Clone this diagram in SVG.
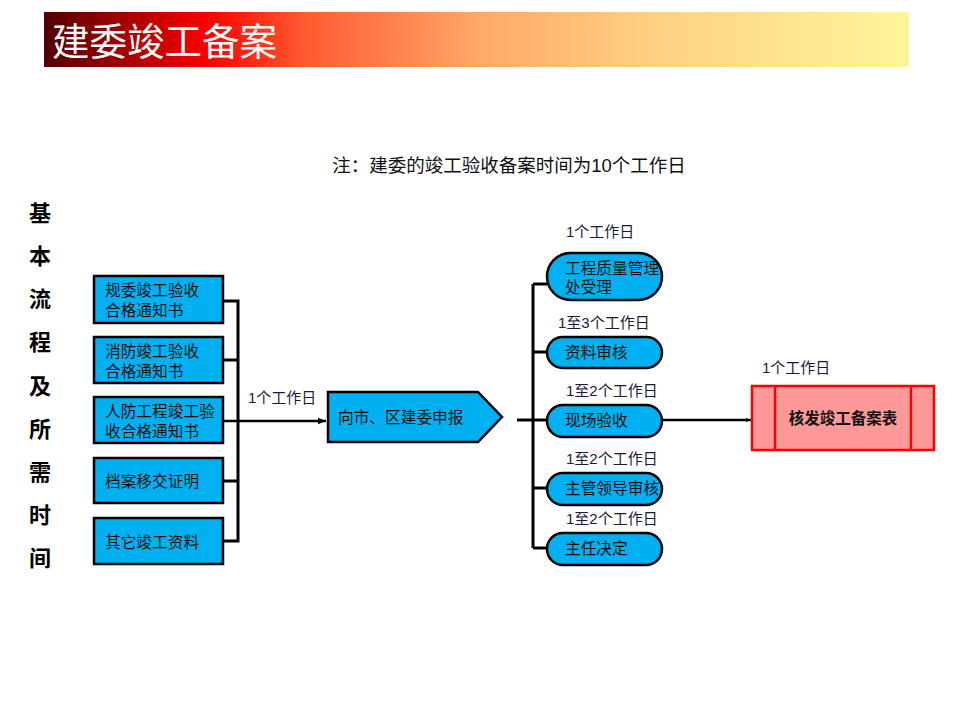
<svg xmlns="http://www.w3.org/2000/svg" width="960" height="720" viewBox="0 0 960 720">
<defs>
<linearGradient id="tg" x1="0" y1="0" x2="1" y2="0">
<stop offset="0" stop-color="#500000"/>
<stop offset="0.19" stop-color="#ff0000"/>
<stop offset="0.3" stop-color="#ff5a30"/>
<stop offset="0.5" stop-color="#ffa866"/>
<stop offset="0.7" stop-color="#ffd080"/>
<stop offset="1" stop-color="#fff59a"/>
</linearGradient>
<marker id="ah" viewBox="0 0 10 10" refX="10" refY="5" markerWidth="5" markerHeight="5" orient="auto" markerUnits="userSpaceOnUse">
<path d="M0,1 L10,5 L0,9 z" fill="#000"/>
</marker>
<marker id="ah2" viewBox="0 0 10 10" refX="10" refY="5" markerWidth="8" markerHeight="8" orient="auto" markerUnits="userSpaceOnUse">
<path d="M0,1 L10,5 L0,9 z" fill="#000"/>
</marker>
</defs>
<style>
text{font-family:"Liberation Sans","Noto Sans CJK SC",sans-serif;}
.box{fill:#00b0f0;stroke:#000;stroke-width:2.5;}
.t{font-size:15.7px;fill:#111;}
.lbl{font-size:15px;fill:#1a1a3a;}
.ln{stroke:#000;stroke-width:3;fill:none;}
.side{font-size:22px;font-weight:bold;fill:#000;text-anchor:middle;}
</style>
<rect width="960" height="720" fill="#fff"/>
<g id="title">
<rect x="44" y="12" width="865" height="55" fill="url(#tg)"/>
<text x="52" y="55" font-size="37.5" fill="#fff">建委竣工备案</text>
</g>
<text x="509" y="172" font-size="18.5" text-anchor="middle" fill="#111">注：建委的竣工验收备案时间为10个工作日</text>
<g id="side-label">
<text class="side" x="40" y="221">基</text>
<text class="side" x="40" y="264">本</text>
<text class="side" x="40" y="307">流</text>
<text class="side" x="40" y="350">程</text>
<text class="side" x="40" y="394">及</text>
<text class="side" x="40" y="437">所</text>
<text class="side" x="40" y="480">需</text>
<text class="side" x="40" y="523">时</text>
<text class="side" x="40" y="566">间</text>
</g>
<g id="connectors">
<path class="ln" d="M223,301 H238 V541 H223 M223,360 H238 M223,481 H238"/>
<line x1="223" y1="421" x2="326" y2="421" stroke="#000" stroke-width="2.5" marker-end="url(#ah2)"/>
<path class="ln" d="M517,420 H547 M533,284 V548 M533,284 H547 M533,352 H547 M533,488 H547 M533,548 H547"/>
<line x1="662" y1="420" x2="751" y2="420" stroke="#000" stroke-width="2.5" marker-end="url(#ah)"/>
<text class="lbl" x="248" y="403">1个工作日</text>
<text class="lbl" x="566" y="237">1个工作日</text>
<text class="lbl" x="558" y="328">1至3个工作日</text>
<text class="lbl" x="566" y="396">1至2个工作日</text>
<text class="lbl" x="566" y="464">1至2个工作日</text>
<text class="lbl" x="566" y="524">1至2个工作日</text>
<text class="lbl" x="762" y="373">1个工作日</text>
</g>
<g id="n1"><rect class="box" x="94" y="276" width="129" height="47"/><text class="t" x="105" y="296">规委竣工验收</text><text class="t" x="105" y="316">合格通知书</text></g>
<g id="n2"><rect class="box" x="94" y="337" width="129" height="46"/><text class="t" x="105" y="357">消防竣工验收</text><text class="t" x="105" y="377">合格通知书</text></g>
<g id="n3"><rect class="box" x="94" y="397" width="129" height="46"/><text class="t" x="105" y="417">人防工程竣工验</text><text class="t" x="105" y="437">收合格通知书</text></g>
<g id="n4"><rect class="box" x="94" y="458" width="129" height="45"/><text class="t" x="105" y="487">档案移交证明</text></g>
<g id="n5"><rect class="box" x="94" y="518" width="129" height="46"/><text class="t" x="105" y="548">其它竣工资料</text></g>
<g id="apply"><path class="box" d="M328,392 H478 L502,417 L478,442 H328 Z"/><text class="t" x="338" y="423">向市、区建委申报</text></g>
<g id="s1"><rect class="box" x="547" y="253" width="115" height="47" rx="23.5"/><text class="t" x="565" y="274">工程质量管理</text><text class="t" x="565" y="293">处受理</text></g>
<g id="s2"><rect class="box" x="547" y="337" width="115" height="31" rx="15.5"/><text class="t" x="565" y="358">资料审核</text></g>
<g id="s3"><rect class="box" x="547" y="405" width="115" height="32" rx="16"/><text class="t" x="565" y="426">现场验收</text></g>
<g id="s4"><rect class="box" x="547" y="473" width="115" height="32" rx="16"/><text class="t" x="565" y="494">主管领导审核</text></g>
<g id="s5"><rect class="box" x="547" y="533" width="115" height="32" rx="16"/><text class="t" x="565" y="554">主任决定</text></g>
<g id="result">
<rect x="752" y="386" width="182" height="64" fill="#ff9999" stroke="#ff0000" stroke-width="2.5"/>
<line x1="775" y1="386" x2="775" y2="450" stroke="#ff0000" stroke-width="2.5"/>
<line x1="911" y1="386" x2="911" y2="450" stroke="#ff0000" stroke-width="2.5"/>
<text x="843" y="424" font-size="15.5" font-weight="bold" text-anchor="middle" fill="#111">核发竣工备案表</text>
</g>
</svg>
